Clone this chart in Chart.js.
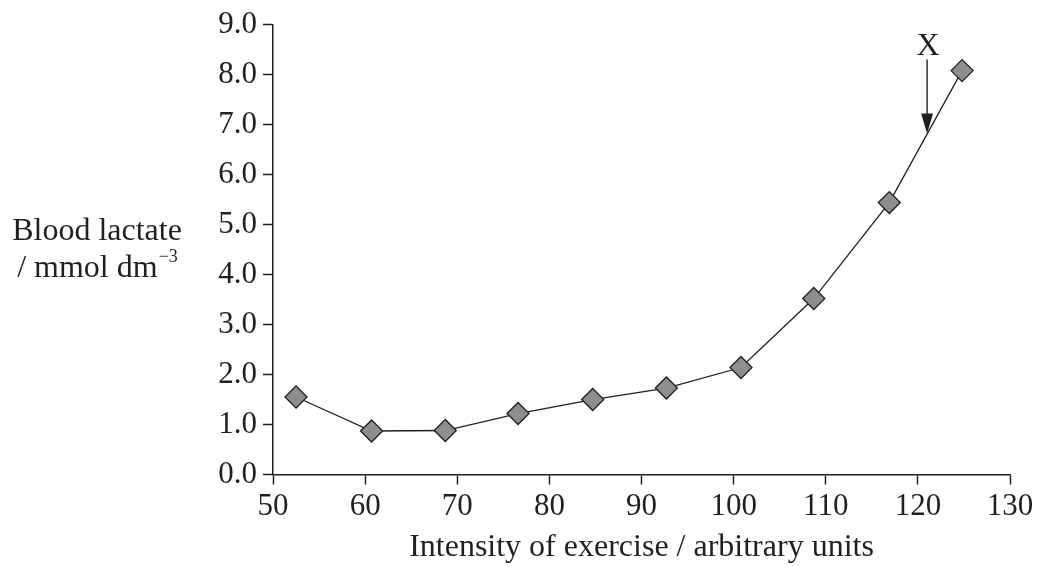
<!DOCTYPE html>
<html>
<head>
<meta charset="utf-8">
<script src="https://cdn.jsdelivr.net/npm/chart.js@4.4.0/dist/chart.umd.min.js"></script>
<style>
  html, body { margin: 0; padding: 0; background: #fff; }
  #wrap { width: 1038px; height: 567px; }
</style>
</head>
<body>
<div id="wrap"><canvas id="lactate"></canvas></div>
<script>
// data
const intensity = [52.5, 60.7, 68.7, 76.6, 84.7, 92.7, 100.8, 108.7, 116.9, 124.8];
const lactate = [1.55, 0.87, 0.88, 1.22, 1.50, 1.73, 2.14, 3.52, 5.44, 8.08];
const xTitle = 'Intensity of exercise / arbitrary units';
const yTitleLines = ['Blood lactate', '/ mmol dm'];
const ySup = '\u22123';
// arrow marked X (data units)
const arrowLabel = 'X';
const arrowAt = 121;
const arrowTop = 8.3;
const arrowTip = 6.82;

const ink = '#231f20';
const serif = '"Liberation Serif", "Times New Roman", serif';

// y axis title and arrow
const extras = {
    id: 'extras',
    afterDraw(chart) {
        const c = chart.ctx;
        const xs = chart.scales.x, ys = chart.scales.y;
        c.save();
        c.fillStyle = ink;
        c.strokeStyle = ink;

        // left title, horizontal
        c.font = '32px ' + serif;
        c.textAlign = 'center';
        c.textBaseline = 'alphabetic';
        c.fillText(yTitleLines[0], 97, 240);
        let w1 = c.measureText(yTitleLines[1]).width;
        c.font = '18px ' + serif;
        let w2 = c.measureText(ySup).width;
        let sx = 97 - (w1 + w2) / 2;
        c.font = '32px ' + serif;
        c.textAlign = 'left';
        c.fillText(yTitleLines[1], sx, 277);
        c.font = '18px ' + serif;
        c.fillText(ySup, sx + w1 + 1, 262);

        // arrow
        const ax = xs.getPixelForValue(arrowAt);
        const y0 = ys.getPixelForValue(arrowTop);
        const y1 = ys.getPixelForValue(arrowTip);
        c.lineWidth = 1.4;
        c.beginPath();
        c.moveTo(ax, y0);
        c.lineTo(ax, y1 - 18);
        c.stroke();
        c.beginPath();
        c.moveTo(ax - 6, y1 - 20);
        c.lineTo(ax + 6, y1 - 20);
        c.lineTo(ax, y1);
        c.closePath();
        c.fill();

        c.font = '32px ' + serif;
        c.textAlign = 'center';
        c.textBaseline = 'alphabetic';
        c.fillText(arrowLabel, ax + 1, y0 - 5);
        c.restore();
    }
};

const ctx = document.getElementById('lactate');
new Chart(ctx, {
    type: 'line',
    data: {
        datasets: [{
            data: intensity.map((v, i) => ({ x: v, y: lactate[i] })),
            borderColor: ink,
            borderWidth: 1.3,
            backgroundColor: '#8e8e90',
            pointStyle: 'rectRot',
            pointRadius: 11,
            pointBorderWidth: 1.3,
            pointBorderColor: ink,
            pointBackgroundColor: '#8e8e90',
            tension: 0,
            fill: false
        }]
    },
    options: {
        responsive: true,
        maintainAspectRatio: false,
        animation: false,
        layout: { padding: { left: 193, right: 28, top: 20, bottom: 0 } },
        plugins: {
            legend: { display: false },
            tooltip: { enabled: false }
        },
        scales: {
            x: {
                type: 'linear',
                min: 50,
                max: 130,
                ticks: {
                    stepSize: 10,
                    color: ink,
                    padding: 4,
                    font: { family: serif, size: 31 },
                    maxRotation: 0
                },
                grid: {
                    drawOnChartArea: false,
                    tickLength: 10,
                    tickColor: ink,
                    tickWidth: 1.5
                },
                border: { color: ink, width: 1.5 },
                title: {
                    display: true,
                    text: xTitle,
                    color: ink,
                    font: { family: serif, size: 32 },
                    padding: { top: 2, bottom: 0 }
                },
                afterFit(scale) { scale.height = 92.5; }
            },
            y: {
                min: 0,
                max: 9,
                ticks: {
                    stepSize: 1,
                    color: ink,
                    padding: 6,
                    font: { family: serif, size: 31 },
                    callback: v => v.toFixed(1)
                },
                grid: {
                    drawOnChartArea: false,
                    tickLength: 10,
                    tickColor: ink,
                    tickWidth: 1.5
                },
                border: { color: ink, width: 1.5 },
                afterFit(scale) { scale.width = 80; }
            }
        }
    },
    plugins: [extras]
});
</script>
</body>
</html>
